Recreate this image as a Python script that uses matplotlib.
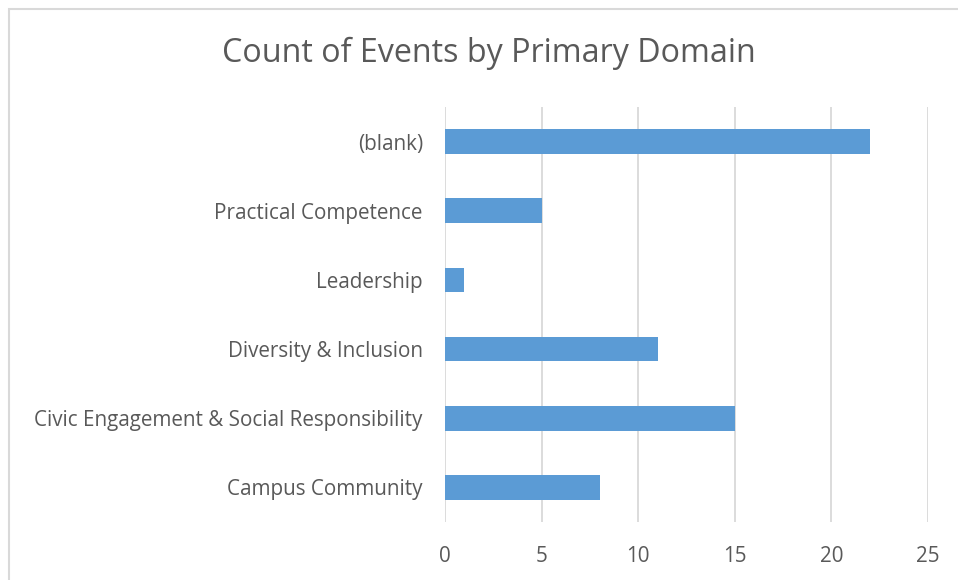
import numpy as np
import matplotlib
matplotlib.use("Agg")
import matplotlib.pyplot as plt
from matplotlib.patches import Rectangle

categories = ['Campus Community', 'Civic Engagement & Social Responsibility',
              'Diversity & Inclusion', 'Leadership', 'Practical Competence', '(blank)']
counts = [8, 15, 11, 1, 5, 22]
xticks = [0, 5, 10, 15, 20, 25]

plt.rcParams['font.family'] = ['Open Sans', 'DejaVu Sans']
txt = '#595959'

fig = plt.figure(figsize=(9.58, 5.8), dpi=100)
ax = fig.add_axes([445/958, 58/580, 483/958, 415/580])

# chart border (only left/top edges are inside the image)
fig.patches.append(Rectangle((9/958, -0.1), 1.2, (580-9)/580 + 0.1, transform=fig.transFigure,
                             fill=False, edgecolor='#d9d9d9', linewidth=1.5))

y = np.arange(len(categories))
ax.barh(y, counts, height=0.355, color='#5b9bd5', zorder=3)

ax.set_xlim(0, 25)
ax.set_ylim(-0.5, len(categories) - 0.5)
ax.set_xticks(xticks)
ax.set_xticklabels([str(t) for t in xticks])
ax.set_yticks(y)
ax.set_yticklabels(categories)
ax.tick_params(axis='both', length=0, colors=txt, labelsize=14.9)
ax.tick_params(axis='y', pad=16)
ax.tick_params(axis='x', pad=17)
ax.grid(axis='x', color='#d9d9d9', linewidth=1.3, zorder=0)
for s in ax.spines.values():
    s.set_visible(False)

fig.text(489/958, 1 - 53/580, 'Count of Events by Primary Domain', ha='center', va='center',
         fontsize=23.2, color=txt)

fig.savefig('out.png', dpi=100)
